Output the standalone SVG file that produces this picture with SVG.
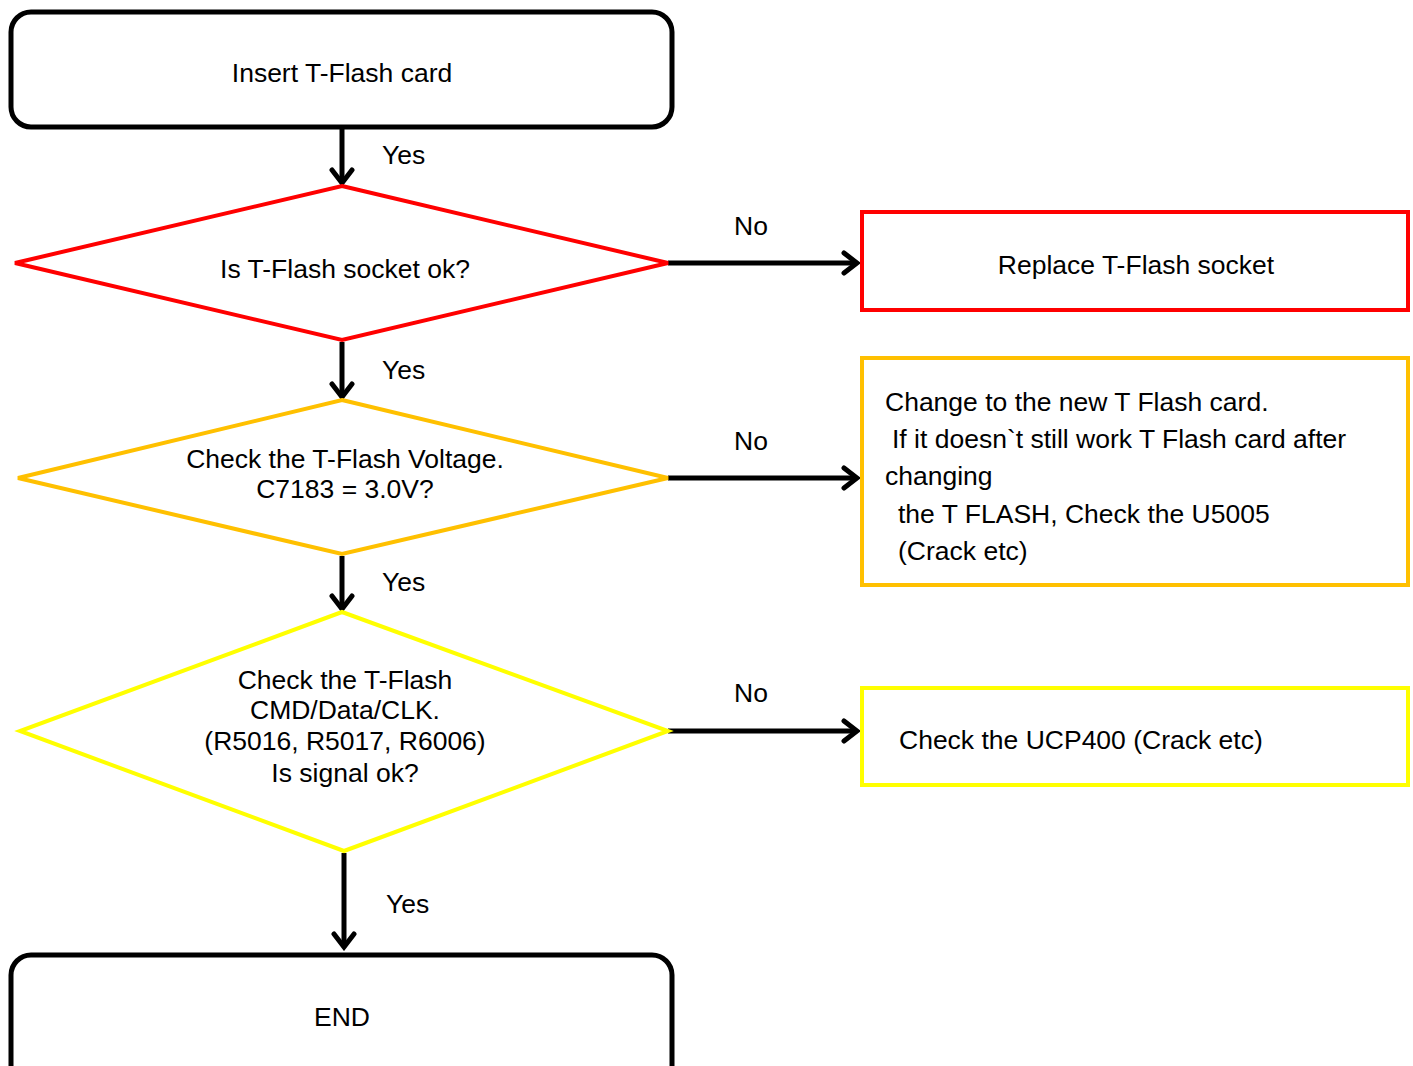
<svg xmlns="http://www.w3.org/2000/svg" width="1413" height="1066" viewBox="0 0 1413 1066">
<style>
text{font-family:"Liberation Sans",Arial,sans-serif;font-size:26.5px;fill:#000}
.c{text-anchor:middle}
.term{fill:#fff;stroke:#000;stroke-width:5}
.conn{fill:none;stroke:#000;stroke-width:5}
</style>
<defs>
<marker id="ah" markerUnits="userSpaceOnUse" viewBox="-18 -13 22 26" refX="0" refY="0" markerWidth="22" markerHeight="26" orient="auto">
<path d="M-13,-10 L0,0 L-13,10" fill="none" stroke="#000" stroke-width="5" stroke-linecap="round" stroke-linejoin="miter"/>
</marker>
</defs>
<rect width="1413" height="1066" fill="#fff"/>
<g id="connectors">
<line class="conn" x1="342" y1="127" x2="342" y2="183" marker-end="url(#ah)"/>
<line class="conn" x1="342" y1="342" x2="342" y2="397" marker-end="url(#ah)"/>
<line class="conn" x1="342" y1="556" x2="342" y2="609" marker-end="url(#ah)"/>
<line class="conn" x1="344" y1="853" x2="344" y2="947" marker-end="url(#ah)"/>
<line class="conn" x1="668" y1="263" x2="857" y2="263" marker-end="url(#ah)"/>
<line class="conn" x1="668" y1="478" x2="857" y2="478" marker-end="url(#ah)"/>
<line class="conn" x1="668" y1="731" x2="857" y2="731" marker-end="url(#ah)"/>
<text x="382" y="164">Yes</text>
<text x="382" y="379">Yes</text>
<text x="382" y="591">Yes</text>
<text x="386" y="913">Yes</text>
<text x="734" y="235">No</text>
<text x="734" y="450">No</text>
<text x="734" y="702">No</text>
</g>
<g id="start">
<rect class="term" x="11" y="12" width="661" height="115" rx="20"/>
<text class="c" x="342" y="82">Insert T-Flash card</text>
</g>
<g id="d1">
<polygon points="342,186 668,263 342,340 15,263" fill="#fff" stroke="#FF0000" stroke-width="4"/>
<text class="c" x="345" y="278">Is T-Flash socket ok?</text>
</g>
<g id="r1">
<rect x="862" y="212" width="546" height="98" fill="#fff" stroke="#FF0000" stroke-width="4"/>
<text class="c" x="1136" y="274">Replace T-Flash socket</text>
</g>
<g id="d2">
<polygon points="342,400 668,478 342,554 18,478" fill="#fff" stroke="#FFC000" stroke-width="4"/>
<text class="c" x="345" y="468">Check the T-Flash Voltage.</text>
<text class="c" x="345" y="498">C7183 = 3.0V?</text>
</g>
<g id="r2">
<rect x="862" y="358" width="546" height="227" fill="#fff" stroke="#FFC000" stroke-width="4"/>
<text x="885" y="411">Change to the new T Flash card.</text>
<text x="892" y="448">If it doesn`t still work T Flash card after</text>
<text x="885" y="485">changing</text>
<text x="898" y="523">the T FLASH, Check the U5005</text>
<text x="898" y="560">(Crack etc)</text>
</g>
<g id="d3">
<polygon points="342,612 668,731 344,851 20,731" fill="#fff" stroke="#FFFF00" stroke-width="4"/>
<text class="c" x="345" y="689">Check the T-Flash</text>
<text class="c" x="345" y="719">CMD/Data/CLK.</text>
<text class="c" x="345" y="750">(R5016, R5017, R6006)</text>
<text class="c" x="345" y="782">Is signal ok?</text>
</g>
<g id="r3">
<rect x="862" y="688" width="546" height="97" fill="#fff" stroke="#FFFF00" stroke-width="4"/>
<text x="899" y="749">Check the UCP400 (Crack etc)</text>
</g>
<g id="end">
<rect class="term" x="11" y="955" width="661" height="140" rx="20"/>
<text class="c" x="342" y="1026">END</text>
</g>
</svg>
